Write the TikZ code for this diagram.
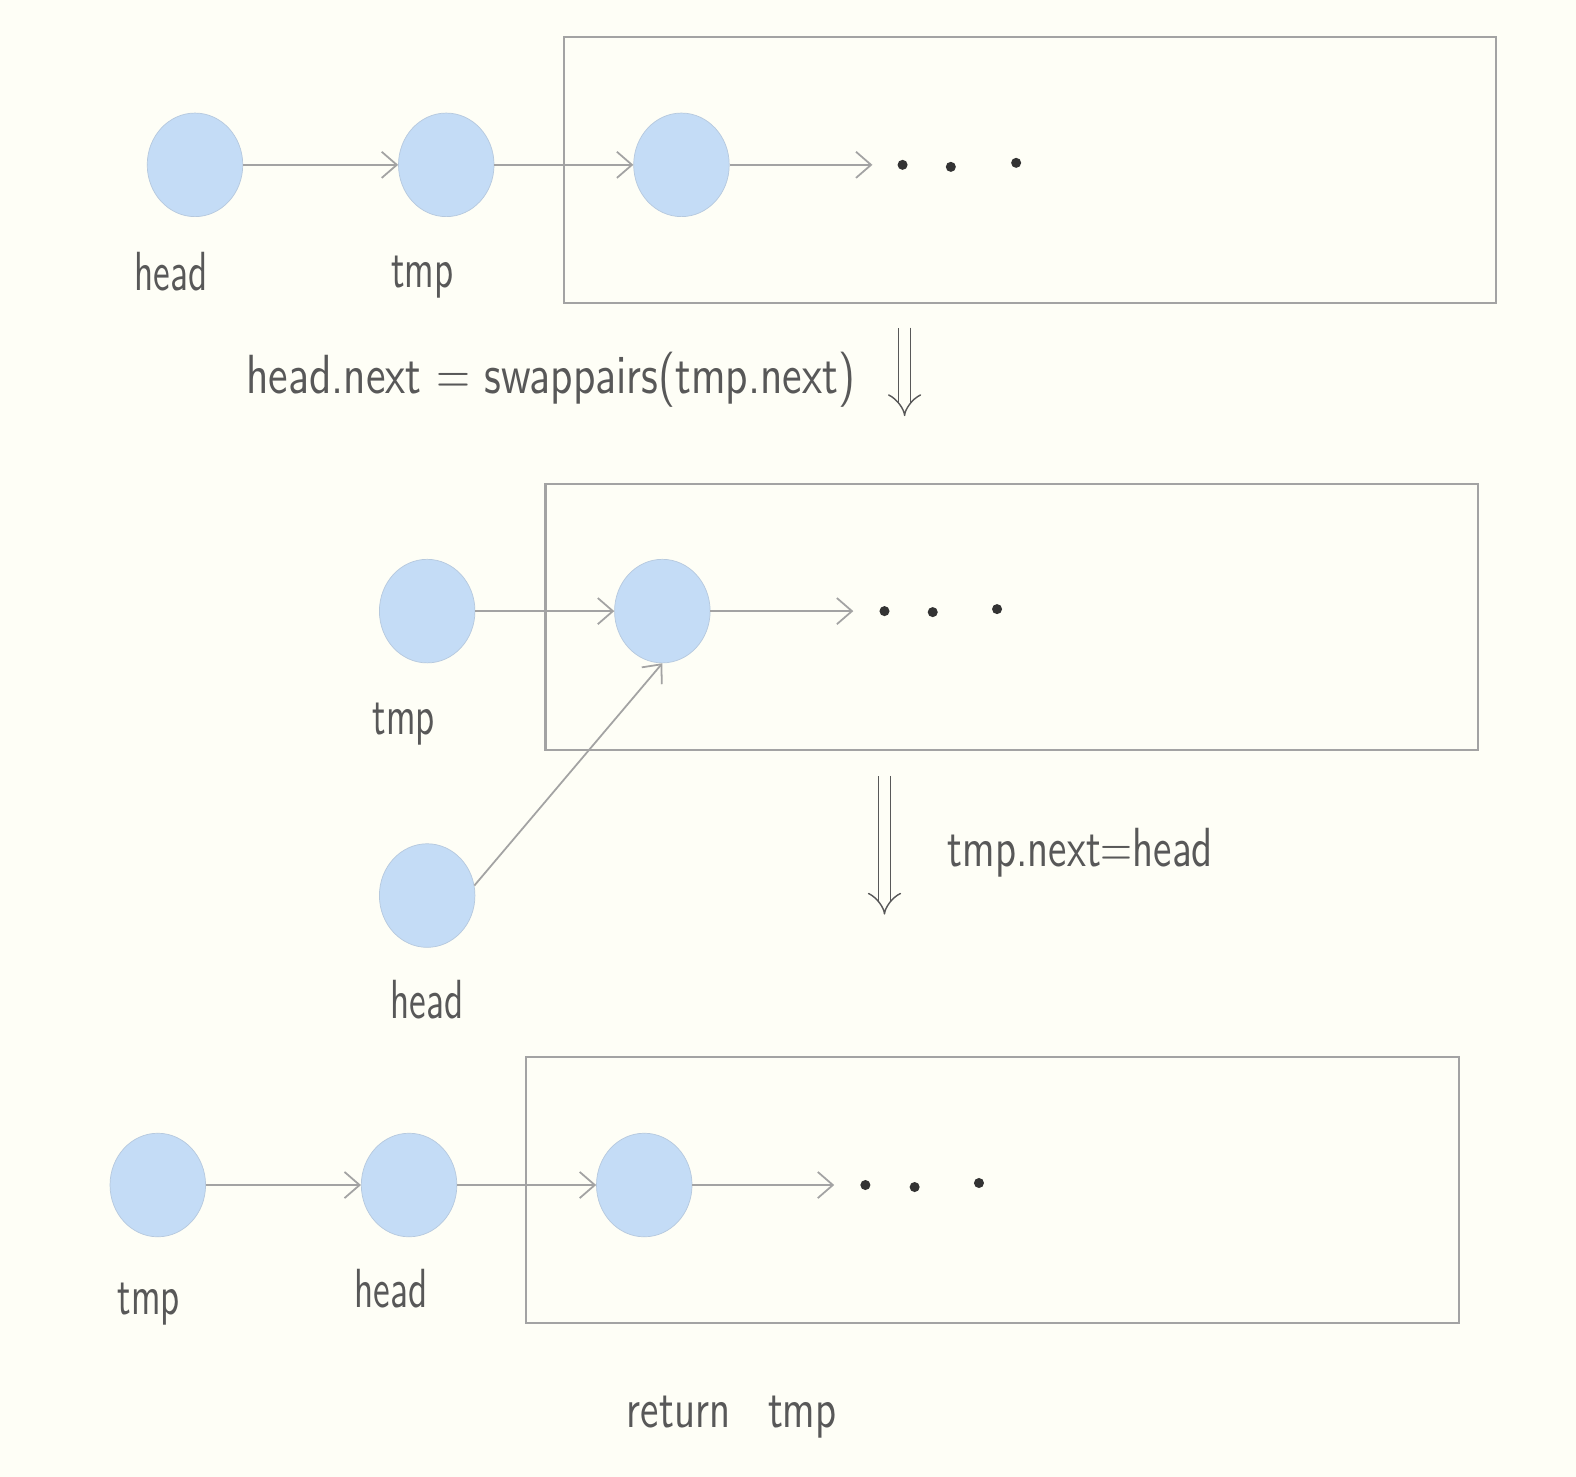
\documentclass[tikz,border=0pt]{standalone}
\usepackage{xcolor}
\usepackage{tikz}
\usetikzlibrary{shapes,positioning,arrows.meta}
\definecolor{paper}{RGB}{254,254,246}
\definecolor{nodeblue}{RGB}{196,220,246}
\definecolor{lineg}{RGB}{163,163,163}
\definecolor{ink}{RGB}{88,88,88}
\tikzset{ell/.style={ellipse,draw=nodeblue!80!gray,fill=nodeblue,line width=0.2pt,minimum height=1.03cm,minimum width=0.95cm,inner sep=0pt},
  lnk/.style={draw=lineg,line width=0.5pt,-{Straight Barb[length=1.5mm,width=2.6mm]}},
  frame/.style={rectangle,draw=lineg,line width=0.6pt,minimum width=9.27cm,minimum height=2.64cm,inner sep=0pt},
  dotnode/.style={circle,fill=black!80,inner sep=0pt,minimum size=0.1cm},
  hand/.style={text=ink,font=\sffamily\large,xscale=0.9,yscale=1.3},
  impl/.style={draw=ink,double=paper,double distance=3pt,line width=0.4pt,-{Implies}}}

\begin{document}
\begin{tikzpicture}[x=0.01cm,y=-0.01cm]
    \fill[paper] (0,0) rectangle (1568,1469);
    \useasboundingbox (0,0) rectangle (1568,1469);

    % first step
    \node[frame] (box1) at (1024.5,169) {};
    \node[ell] (head1) at (194,164) {};
    \node[ell] (tmp1) at (444,164) {};
    \node[ell] (rest1) at (678,164) {};
    \coordinate (end1) at (868,164);
    \node[dotnode] (d11) at (898,164) {};
    \node[dotnode] (d12) at (946,166) {};
    \node[dotnode] (d13) at (1011,162) {};
    \node[hand] (lhead1) at (170,270) {head};
    \node[hand] (ltmp1) at (420,276) {tmp};

    \draw [lnk] (head1) to [] (tmp1);
    \draw [lnk] (tmp1) to [] (rest1);
    \draw [lnk] (rest1) to [] (end1);

    \node[hand,xscale=1.17] (step1) at (548,378) {head.next = swappairs(tmp.next)};
    \coordinate (a1) at (900,326);
    \coordinate (b1) at (900,414);
    \draw [impl] (a1) to [] (b1);

    % second step
    \node[frame] (box2) at (1006.5,614) {};
    \node[ell] (tmp2) at (425,608) {};
    \node[ell] (rest2) at (659,608) {};
    \node[ell] (head2) at (425,891) {};
    \coordinate (end2) at (849,608);
    \node[dotnode] (d21) at (880,608) {};
    \node[dotnode] (d22) at (928,609) {};
    \node[dotnode] (d23) at (992,606) {};
    \node[hand] (ltmp2) at (402,720) {tmp};
    \node[hand] (lhead2) at (425,995) {head};

    \draw [lnk] (tmp2) to [] (rest2);
    \draw [lnk] (rest2) to [] (end2);
    \draw [lnk] (head2.12) to [] (rest2.south);

    \coordinate (a2) at (880,772);
    \coordinate (b2) at (880,910);
    \draw [impl] (a2) to [] (b2);
    \node[hand,xscale=1.1] (step2) at (1075,848) {tmp.next=head};

    % third step
    \node[frame] (box3) at (987.5,1184) {};
    \node[ell] (tmp3) at (157,1179) {};
    \node[ell] (head3) at (407,1179) {};
    \node[ell] (rest3) at (641,1179) {};
    \coordinate (end3) at (830,1179);
    \node[dotnode] (d31) at (861,1179) {};
    \node[dotnode] (d32) at (910,1181) {};
    \node[dotnode] (d33) at (974,1177) {};
    \node[hand] (ltmp3) at (148,1297) {tmp};
    \node[hand] (lhead3) at (389,1282) {head};

    \draw [lnk] (tmp3) to [] (head3);
    \draw [lnk] (head3) to [] (rest3);
    \draw [lnk] (rest3) to [] (end3);

    \node[hand,xscale=1.1] (ret) at (728,1410) {return\hspace{0.9em}tmp};
\end{tikzpicture}
\end{document}
